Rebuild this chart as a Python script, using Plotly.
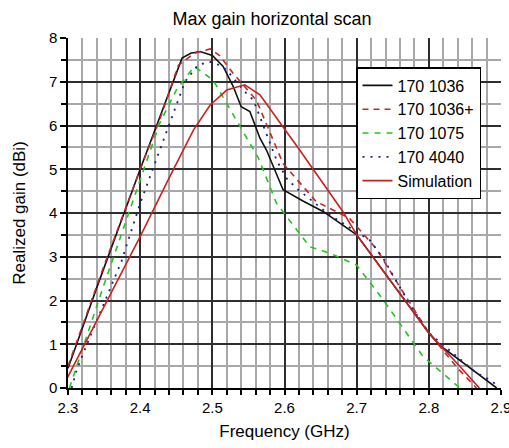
import plotly.graph_objects as go

# ---- data ----
f_1036 = [2.300, 2.340, 2.400, 2.430, 2.458, 2.470, 2.483, 2.500, 2.515, 2.529, 2.540, 2.552, 2.566,
          2.575, 2.598, 2.625, 2.654, 2.700, 2.750, 2.800, 2.815, 2.860, 2.894]
g_1036 = [0.45, 2.30, 5.00, 6.30, 7.54, 7.65, 7.69, 7.60, 7.35, 6.89, 6.43, 6.32, 5.71,
          5.44, 4.53, 4.28, 4.03, 3.50, 2.38, 1.26, 0.98, 0.41, 0.00]

f_1036p = [2.300, 2.350, 2.400, 2.427, 2.453, 2.475, 2.497, 2.510, 2.529, 2.561, 2.598, 2.644,
           2.690, 2.727, 2.764, 2.800, 2.840, 2.866]
g_1036p = [0.50, 2.80, 5.00, 6.13, 7.38, 7.65, 7.75, 7.60, 7.19, 6.58, 5.13, 4.26,
           3.88, 3.19, 2.20, 1.26, 0.45, 0.00]

f_1075 = [2.302, 2.349, 2.388, 2.427, 2.450, 2.475, 2.501, 2.524, 2.547, 2.564, 2.589, 2.635,
          2.663, 2.700, 2.737, 2.792, 2.843]
g_1075 = [0.00, 2.32, 4.18, 6.05, 6.81, 7.35, 7.04, 6.39, 5.71, 5.25, 4.22, 3.23,
          3.08, 2.81, 2.01, 0.72, 0.00]

f_4040 = [2.305, 2.312, 2.324, 2.358, 2.374, 2.400, 2.437, 2.453, 2.462, 2.471, 2.480, 2.496,
          2.510, 2.520, 2.529, 2.547, 2.557, 2.589, 2.603, 2.617, 2.663, 2.718, 2.737, 2.774,
          2.800, 2.864, 2.889, 2.897]
g_4040 = [0.00, 0.41, 0.91, 2.24, 2.89, 4.22, 5.86, 6.58, 7.00, 7.19, 7.38, 7.46,
          7.38, 7.27, 7.08, 6.74, 6.58, 5.21, 4.79, 4.56, 3.95, 3.38, 2.96, 1.90,
          1.26, 0.37, 0.14, 0.00]

f_sim = [2.298, 2.354, 2.400, 2.441, 2.474, 2.497, 2.520, 2.545, 2.566, 2.600, 2.621, 2.681,
         2.700, 2.750, 2.800, 2.840, 2.870]
g_sim = [0.20, 2.01, 3.46, 4.83, 5.90, 6.47, 6.81, 6.93, 6.70, 5.92, 5.44, 4.03,
         3.50, 2.38, 1.26, 0.55, 0.00]

names = ["170 1036", "170 1036+", "170 1075", "170 4040", "Simulation"]

x_ticks = [2.3, 2.4, 2.5, 2.6, 2.7, 2.8, 2.9]
x_labels = ["2.3", "2.4", "2.5", "2.6", "2.7", "2.8", "2.9"]
y_ticks = [0, 1, 2, 3, 4, 5, 6, 7, 8]

FONT = "Arial, Liberation Sans, sans-serif"

fig = go.Figure()
fig.add_trace(go.Scatter(x=f_1036, y=g_1036, mode="lines", name=names[0],
                         line=dict(color="#111111", width=1.6)))
fig.add_trace(go.Scatter(x=f_1036p, y=g_1036p, mode="lines", name=names[1],
                         line=dict(color="#c0282b", width=1.6, dash="6px,5px")))
fig.add_trace(go.Scatter(x=f_1075, y=g_1075, mode="lines", name=names[2],
                         line=dict(color="#22c422", width=1.6, dash="6px,6px")))
fig.add_trace(go.Scatter(x=f_4040, y=g_4040, mode="lines", name=names[3],
                         line=dict(color="#1c1c8a", width=1.8, dash="2px,6px")))
fig.add_trace(go.Scatter(x=f_sim, y=g_sim, mode="lines", name=names[4],
                         line=dict(color="#cc2020", width=1.6)))

fig.update_layout(
    width=509, height=448,
    margin=dict(l=68, r=8, t=38, b=60, autoexpand=False),
    paper_bgcolor="white", plot_bgcolor="white",
    font=dict(family=FONT, color="black", size=15),
    title=dict(text="Max gain horizontal scan", x=272/509, xanchor="center",
               y=1 - 19/448, yanchor="middle", font=dict(size=18, family=FONT)),
    legend=dict(x=(356-68)/433, y=(388-67)/350, xanchor="left", yanchor="top",
                bgcolor="white", bordercolor="black", borderwidth=1.5,
                font=dict(size=16, family=FONT), tracegroupgap=0),
    showlegend=True,
)
fig.update_xaxes(
    range=[2.3, 2.9], tickmode="array", tickvals=x_ticks, ticktext=x_labels,
    ticklabeloverflow="allow", automargin=False,
    showline=True, linecolor="black", linewidth=1.5,
    ticks="outside", ticklen=5, tickcolor="black", tickwidth=1.5,
    showgrid=True, gridcolor="#2e2e2e", gridwidth=1.8, zeroline=False,
    minor=dict(dtick=0.02, tick0=2.3, ticks="outside", ticklen=5, tickcolor="black",
               showgrid=True, gridcolor="#a8a8a8", gridwidth=1.8),
    title=dict(text="Frequency (GHz)", font=dict(size=17), standoff=10),
    tickfont=dict(size=15),
)
fig.update_yaxes(
    range=[0, 8], tickmode="array", tickvals=y_ticks,
    ticklabeloverflow="allow", automargin=False,
    showline=True, linecolor="black", linewidth=1.5,
    ticks="outside", ticklen=6, tickcolor="black", tickwidth=1.5,
    showgrid=True, gridcolor="#2e2e2e", gridwidth=1.8, zeroline=False,
    minor=dict(dtick=0.5, tick0=0, ticks="outside", ticklen=5, tickcolor="black",
               showgrid=True, gridcolor="#a8a8a8", gridwidth=1.8),
    title=dict(text="Realized gain (dBi)", font=dict(size=17), standoff=19),
    tickfont=dict(size=15),
)

fig.write_html("out.html")
